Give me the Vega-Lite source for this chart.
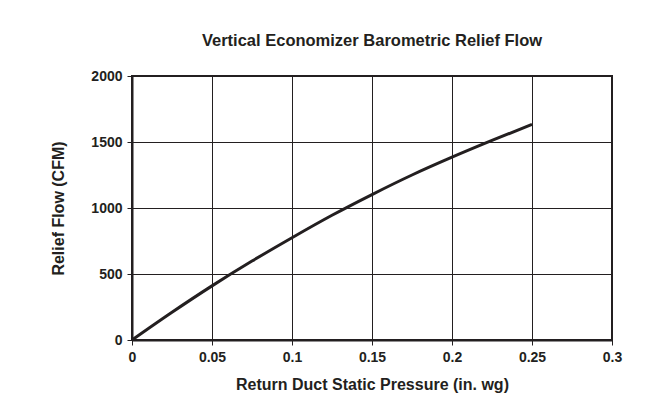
{
  "$schema": "https://vega.github.io/schema/vega-lite/v6.json",
  "width": 480,
  "height": 264,
  "autosize": {"type": "none"},
  "padding": {"left": 132, "top": 76, "right": 56, "bottom": 68},
  "background": "white",
  "title": {
    "text": "Vertical Economizer Barometric Relief Flow",
    "font": "Liberation Sans",
    "fontSize": 16.5,
    "fontWeight": "bold",
    "color": "#231f20",
    "anchor": "middle",
    "offset": 20
  },
  "config": {
    "view": {"stroke": "#231f20", "strokeWidth": 2},
    "axis": {
      "labelFont": "Liberation Sans",
      "labelFontSize": 14,
      "labelFontWeight": "bold",
      "labelColor": "#231f20",
      "labelFlush": false,
      "titleFont": "Liberation Sans",
      "titleFontSize": 16,
      "titleFontWeight": "bold",
      "titleColor": "#231f20",
      "domainColor": "#231f20",
      "domainWidth": 2,
      "gridColor": "#231f20",
      "gridWidth": 1,
      "gridOpacity": 1,
      "tickColor": "#231f20",
      "tickSize": 5,
      "tickWidth": 1
    }
  },
  "data": {
    "values": [
      {"p": 0, "cfm": 0},
      {"p": 0.025, "cfm": 210},
      {"p": 0.05, "cfm": 410},
      {"p": 0.075, "cfm": 598},
      {"p": 0.1, "cfm": 775},
      {"p": 0.125, "cfm": 945},
      {"p": 0.15, "cfm": 1102},
      {"p": 0.175, "cfm": 1250},
      {"p": 0.2, "cfm": 1385},
      {"p": 0.225, "cfm": 1512},
      {"p": 0.25, "cfm": 1633}
    ]
  },
  "mark": {"type": "line", "color": "#231f20", "strokeWidth": 3, "interpolate": "monotone"},
  "encoding": {
    "x": {
      "field": "p",
      "type": "quantitative",
      "scale": {"domain": [0, 0.3], "nice": false, "zero": true},
      "axis": {
        "values": [0, 0.05, 0.1, 0.15, 0.2, 0.25, 0.3],
        "labelExpr": "datum.value == 0 ? '0' : format(datum.value, '.2~f')",
        "title": "Return Duct Static Pressure (in. wg)",
        "labelPadding": 5,
        "titlePadding": 12
      }
    },
    "y": {
      "field": "cfm",
      "type": "quantitative",
      "scale": {"domain": [0, 2000], "nice": false},
      "axis": {
        "values": [0, 500, 1000, 1500, 2000],
        "format": "d",
        "title": "Relief Flow (CFM)",
        "labelPadding": 5,
        "titlePadding": 24
      }
    }
  }
}
